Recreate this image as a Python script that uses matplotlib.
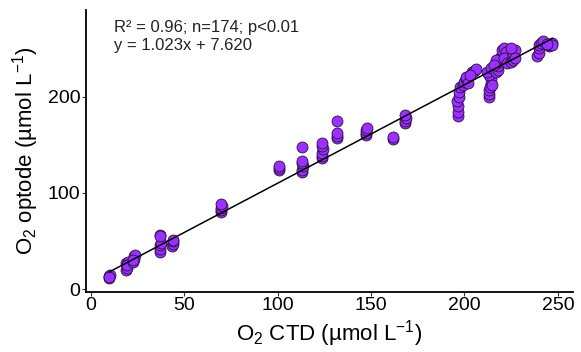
import matplotlib
matplotlib.use('Agg')
import matplotlib.pyplot as plt
import numpy as np

plt.rcParams['font.family'] = ['Liberation Sans', 'DejaVu Sans']
plt.rcParams['mathtext.fontset'] = 'custom'
plt.rcParams['mathtext.rm'] = 'Liberation Sans'
plt.rcParams['mathtext.it'] = 'Liberation Sans:italic'

# O2 from CTD vs optode (umol/L)
o2_ctd = [10, 10, 10.5, 10,
          19, 19.5, 19, 20, 19.5,
          22.5, 23, 23, 23.5, 22.5,
          37, 37, 37, 37.5, 37, 37,
          43.5, 44, 44, 44,
          70, 70, 70, 70.5, 70,
          101, 101, 101,
          113, 113, 113.5, 113, 113, 113,
          124, 124, 124, 124.5, 124, 124,
          132, 132, 132, 132,
          147.5, 147.5, 147.5, 148,
          162, 162,
          168, 168, 168.5, 168,
          196.5, 196.5, 196.5, 196, 197, 197, 197.5,
          199, 200, 201, 201, 202,
          204, 205, 206, 203,
          213, 213, 213, 213.5, 214, 214, 213, 212, 214, 215,
          217, 218, 218, 219, 219, 220, 220, 221, 222, 217, 216, 221, 223,
          225, 226, 226, 226, 227, 225, 227,
          239, 240, 240, 240, 241, 242,
          245, 246, 247, 247, 244]
o2_optode = [12, 14, 15, 13,
             20, 22, 27, 28, 25,
             28, 31, 34, 35, 30,
             39, 42, 46, 48, 56, 55,
             45, 47, 50, 51,
             80, 82, 84, 86, 88,
             124, 126, 128,
             122, 124, 128, 131, 133, 148,
             136, 138, 141, 145, 149, 152,
             157, 159, 162, 175,
             160, 162, 165, 167,
             156, 158,
             172, 175, 178, 181,
             180, 184, 190, 195, 200, 205, 210,
             212, 215, 218, 220, 214,
             225, 227, 229, 222,
             200, 203, 207, 210, 214, 218, 222, 225, 230, 212,
             225, 228, 232, 236, 240, 244, 248, 250, 246, 238, 233, 240, 235,
             236, 238, 242, 245, 248, 250, 240,
             242, 245, 250, 254, 256, 258,
             252, 254, 256, 253, 255]

slope = 1.023
intercept = 7.620
stats_text = "R² = 0.96; n=174; p<0.01\ny = 1.023x + 7.620"

fig = plt.figure(figsize=(5.81, 3.52), dpi=100)
ax = fig.add_axes([0.148, 0.171, 0.838, 0.801])

ax.scatter(o2_ctd, o2_optode, s=62, c='#9B30FF', edgecolors='#2a1040',
           linewidths=0.6, zorder=2)

xs = np.array([min(o2_ctd), max(o2_ctd)])
ax.plot(xs, slope * xs + intercept, color='black', lw=1.1, zorder=3)

ax.text(0.058, 0.965, stats_text, transform=ax.transAxes, ha='left', va='top',
        fontsize=12, linespacing=1.3, color='#222222')

ax.set_xlim(-2.5, 258)
ax.set_ylim(-2.8, 290)
ax.set_xticks([0, 50, 100, 150, 200, 250])
ax.set_yticks([0, 100, 200])

for side in ['top', 'right']:
    ax.spines[side].set_visible(False)
for side in ['left', 'bottom']:
    ax.spines[side].set_linewidth(1.3)
ax.tick_params(axis='both', labelsize=14, length=3, width=0.8,
               color='#333333', labelcolor='black', pad=1)

ax.set_xlabel(r'O$_2$ CTD (µmol L$\mathregular{^{-1}}$)', fontsize=16, labelpad=3)
ax.set_ylabel(r'O$_2$ optode (µmol L$\mathregular{^{-1}}$)', fontsize=16, labelpad=5)

fig.savefig('out.png', dpi=100)
